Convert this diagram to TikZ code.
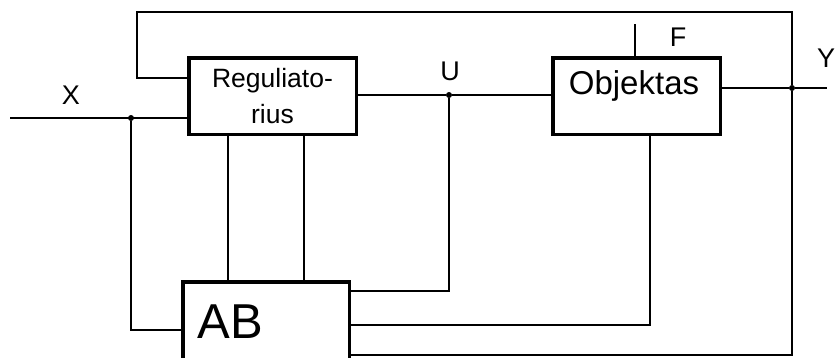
\documentclass[tikz,border=0pt]{standalone}
\usepackage{fontspec}
\setmainfont{Liberation Sans}
\begin{document}
\begin{tikzpicture}[x=1pt,y=-1pt,
  blk/.style={draw,line width=3.5pt,inner sep=0pt,outer sep=0pt},
  wire/.style={line width=1.6pt},
  dot/.style={circle,fill,inner sep=0pt,minimum size=6pt},
  lbl/.style={inner sep=0pt,font=\fontsize{27}{29}\selectfont}]
\useasboundingbox (0,0) rectangle (837,357);
\clip (0,0) rectangle (837,357);
% blocks
\node[blk,minimum width=167.5pt,minimum height=76.5pt,align=center,
  font=\fontsize{26.5}{36}\selectfont] (reg) at (272.5,96) {Reguliato-\\rius};
\node[blk,minimum width=167.5pt,minimum height=76.5pt] (obj) at (636.5,96) {};
\node[inner sep=0pt,font=\fontsize{33}{35}\selectfont] (objt) at (634,86) {Objektas};
\node[blk,minimum width=166.5pt,minimum height=118pt] (ab) at (266,341) {};
\node[inner sep=0pt,font=\fontsize{49}{51}\selectfont] (abt) at (230,322) {AB};
% junctions
\node[dot] (xd) at (131,118) {};
\node[dot] (ud) at (449,95) {};
\node[dot] (yd) at (792,88) {};
\coordinate (xin) at (10,118);
\coordinate (yout) at (827,88);
\coordinate (fin) at (635,24);
% labels
\node[lbl] (xl) at (71,95) {X};
\node[lbl] (ul) at (450,71) {U};
\node[lbl] (fl) at (678,37) {F};
\node[lbl] (yl) at (826,58) {Y};
% wires
\draw[wire] (xin) -- (xin -| reg.west);
\draw[wire] (reg.east |- ud) -- (ud) -- (obj.west |- ud);
\draw[wire] (obj.east |- yd) -- (yd) -- (yout);
\draw[wire] (fin) -- (fin |- obj.north);
\draw[wire] (yd) -- (792,12) -- (137,12) -- (137,78) -- (reg.west |- 0,78);
\draw[wire] (xd) -- (131,330) -- (ab.west |- 0,330);
\draw[wire] (228,136) -- (228,280);
\draw[wire] (304,136) -- (304,280);
\draw[wire] (ud) -- (449,291) -- (ab.east |- 0,291);
\draw[wire] (650,136) -- (650,325) -- (ab.east |- 0,325);
\draw[wire] (yd) -- (792,355) -- (ab.east |- 0,355);
\end{tikzpicture}
\end{document}
